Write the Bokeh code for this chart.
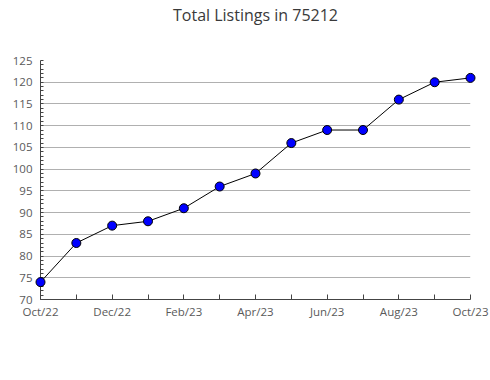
from bokeh.plotting import figure
from bokeh.models import FixedTicker, Range1d, Title
from bokeh.embed import file_html
from bokeh.resources import INLINE

title = "Total Listings in 75212"
months = ["Oct/22", "Nov/22", "Dec/22", "Jan/23", "Feb/23", "Mar/23", "Apr/23",
          "May/23", "Jun/23", "Jul/23", "Aug/23", "Sep/23", "Oct/23"]
listings = [74, 83, 87, 88, 91, 96, 99, 106, 109, 109, 116, 120, 121]
y_ticks = list(range(70, 126, 5))

xs = list(range(len(months)))

p = figure(width=490, height=380, output_backend="svg", toolbar_location=None,
           x_range=Range1d(0, len(months) - 1), y_range=Range1d(70, 125),
           min_border_left=40, min_border_right=20, min_border_top=0, min_border_bottom=81)
p.outline_line_color = None
p.background_fill_color = "white"
p.border_fill_color = "white"

# real title (outermost panel)
p.title.text = title
p.title.align = "center"
p.title.vertical_align = "top"
p.title.standoff = 7
p.title.text_font = "Open Sans"
p.title.text_font_size = "16px"
p.title.text_font_style = "normal"
p.title.text_color = "#3a3a3a"

# inner spacer title (keeps a gap between title and plot area)
p.add_layout(Title(text=" ", text_font_size="1px", standoff=26), "above")

p.xgrid.grid_line_color = None
p.ygrid.grid_line_color = "#b0b0b0"
p.ygrid.grid_line_width = 1

p.xaxis.ticker = FixedTicker(ticks=xs, minor_ticks=[])
p.xaxis.major_label_overrides = {i: (m if i % 2 == 0 else "") for i, m in enumerate(months)}
p.yaxis.ticker = FixedTicker(ticks=y_ticks, minor_ticks=list(range(70, 126)))

for ax in (p.xaxis, p.yaxis):
    ax.axis_line_color = "#444444"
    ax.major_tick_line_color = "#444444"
    ax.minor_tick_line_color = "#444444"
    ax.major_label_text_font = "Open Sans"
    ax.major_label_text_font_size = "11.5px"
    ax.major_label_text_color = "#5a5a5a"
    ax.major_tick_out = 0
    ax.minor_tick_out = 0

p.xaxis.major_tick_in = 5
p.yaxis.major_tick_in = 0
p.yaxis.minor_tick_in = 3
p.xaxis.major_label_standoff = 4
p.yaxis.major_label_standoff = 8

p.line(xs, listings, line_color="black", line_width=1, level="overlay")
p.scatter(xs, listings, size=9, fill_color="#0000ff", line_color="black",
          line_width=1, level="overlay")

open("out.html", "w").write(file_html(p, INLINE))
